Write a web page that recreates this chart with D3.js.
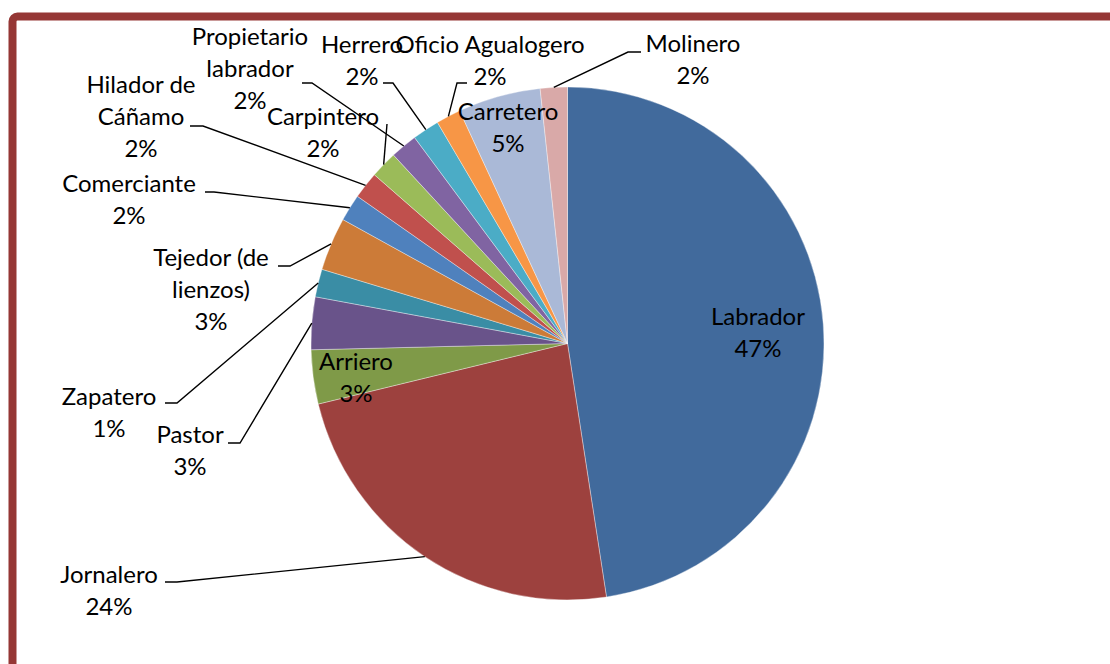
<!DOCTYPE html>
<html><head><meta charset="utf-8">
<script src="https://cdn.jsdelivr.net/npm/d3@7/dist/d3.min.js"></script>
<style>body{margin:0;background:#fff;overflow:hidden}</style></head>
<body><svg id="c" width="1110" height="664"></svg>
<script>
// ---- data ----
const categories = ["Labrador","Jornalero","Arriero","Pastor","Zapatero","Tejedor (de lienzos)","Comerciante","Hilador de Cáñamo","Carpintero","Propietario labrador","Herrero","Oficio Agualogero","Carretero","Molinero"];
const values = [47.5, 23.6, 3.4, 3.3, 1.75, 3.35, 1.7, 1.7, 1.7, 1.7, 1.7, 1.55, 5.2, 1.7];
const percentLabels = ["47%","24%","3%","3%","1%","3%","2%","2%","2%","2%","2%","2%","5%","2%"];
const nameLines = [["Labrador"],["Jornalero"],["Arriero"],["Pastor"],["Zapatero"],["Tejedor (de","lienzos)"],["Comerciante"],["Hilador de","Cáñamo"],["Carpintero"],["Propietario","labrador"],["Herrero"],["Oficio Agualogero"],["Carretero"],["Molinero"]];
const colors = ["#416A9C","#9D413E","#7F9A48","#69538A","#3A8DA5","#CC7B38","#4F81BD","#C0504D","#9BBB59","#8064A2","#4BACC6","#F79646","#AAB9D7","#D9A9A8"];

// ---- layout (label placement, leader elbows) ----
const layout = [
  {x:758, y:325, inside:true},
  {x:109, y:583, start:[165,582], elbow:[177,582]},
  {x:356, y:370, inside:true},
  {x:190, y:443, start:[228,443], elbow:[240,443]},
  {x:109, y:405, start:[165,403], elbow:[177,403]},
  {x:211, y:266, start:[278,266], elbow:[290,266]},
  {x:129, y:192, start:[205,192], elbow:[214,192]},
  {x:141, y:93,  start:[190,126], elbow:[203,126]},
  {x:323, y:125, start:[387,124], elbow:[387,124]},
  {x:250, y:45,  start:[302,83], elbow:[312,83]},
  {x:362, y:53,  start:[383,83], elbow:[393,83]},
  {x:490, y:53,  start:[467,83], elbow:[457,83]},
  {x:508, y:120, inside:true},
  {x:693, y:52,  start:[641,52], elbow:[628,52]}
];
const cx = 567.5, cy = 343.5, R = 256.5, lineH = 32;

const svg = d3.select("#c");
// frame
svg.append("rect").attr("x",12.5).attr("y",16.5).attr("width",1200).attr("height",800)
  .attr("rx",5).attr("fill","none").attr("stroke","#953735").attr("stroke-width",8);

const rows = categories.map((c,i)=>({name:c, value:values[i], pct:percentLabels[i], lines:nameLines[i], color:colors[i], L:layout[i]}));
const pie = d3.pie().sort(null).value(d=>d.value).startAngle(0).endAngle(2*Math.PI);
const arcs = pie(rows);
const arc = d3.arc().innerRadius(0).outerRadius(R);
const edge = d3.arc().innerRadius(R).outerRadius(R);

const g = svg.append("g").attr("transform",`translate(${cx},${cy})`);
g.selectAll("path").data(arcs).join("path")
  .attr("d",arc).attr("fill",d=>d.data.color)
  .attr("stroke","#ffffff").attr("stroke-opacity",0.45).attr("stroke-width",0.8);

// leaders
const line = d3.line();
arcs.forEach(d=>{
  const L = d.data.L;
  if (L.inside) return;
  const e = edge.centroid(d);
  const pts = [L.start, L.elbow, [cx+e[0], cy+e[1]]];
  svg.append("path").attr("d",line(pts)).attr("fill","none").attr("stroke","#000").attr("stroke-width",1.4);
});

// labels
arcs.forEach(d=>{
  const L = d.data.L;
  const t = svg.append("text").attr("text-anchor","middle")
    .attr("font-family","Lato, 'Open Sans', sans-serif").attr("font-size",24).attr("fill","#000");
  const lines = d.data.lines.concat([d.data.pct]);
  lines.forEach((s,k)=>{
    t.append("tspan").attr("x",L.x).attr("y",L.y + k*lineH).text(s);
  });
});
</script></body></html>
